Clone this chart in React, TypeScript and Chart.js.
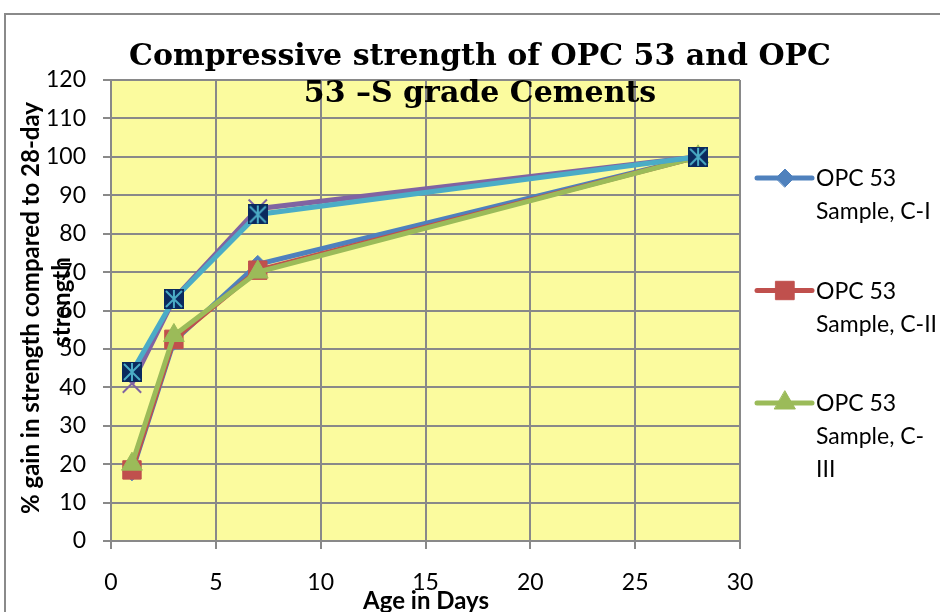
import React, { useEffect, useRef } from "react";
import { Chart, registerables } from "chart.js";
import { drawPoint } from "chart.js/helpers";

Chart.register(...registerables);

// ---- data ----
const days = [1, 3, 7, 28];
const opc53CI = [18, 52, 72, 100];
const opc53CII = [18.5, 52.5, 70.5, 100];
const opc53CIII = [20, 53.5, 70, 100];
const opc53S1 = [41, 63, 86.5, 100];
const opc53S2 = [44, 63, 85, 100];
const seriesNames = [
  "OPC 53 Sample, C-I",
  "OPC 53 Sample, C-II",
  "OPC 53 Sample, C-III",
  "OPC 53-S Sample, C-I",
  "OPC 53-S Sample, C-II",
];
const legendLines = [
  ["OPC 53", "Sample, C-I"],
  ["OPC 53", "Sample, C-II"],
  ["OPC 53", "Sample, C-", "III"],
];
const titleLines = ["Compressive strength of OPC 53 and OPC", "53 \u2013S grade Cements"];
const yTitleLines = ["% gain in strength compared to 28-day", "strength"];
const xTitle = "Age in Days";
const xRange = [0, 30, 5];
const yRange = [0, 120, 10];

const BLUE = "#4F81BD";
const RED = "#C0504D";
const GREEN = "#9BBB59";
const PURPLE = "#8064A2";
const AQUA = "#4BACC6";
const NAVY = "#0B2A5E";
const GRID = "#898989";

function makeStarMarker(): HTMLCanvasElement {
  const c = document.createElement("canvas");
  c.width = 20;
  c.height = 20;
  const g = c.getContext("2d")!;
  g.fillStyle = NAVY;
  g.fillRect(0, 0, 20, 20);
  g.strokeStyle = AQUA;
  g.lineWidth = 2;
  g.beginPath();
  g.moveTo(2, 2);
  g.lineTo(18, 18);
  g.moveTo(18, 2);
  g.lineTo(2, 18);
  g.moveTo(10, 1);
  g.lineTo(10, 19);
  g.stroke();
  return c;
}

export default function App() {
  const ref = useRef<HTMLCanvasElement | null>(null);

  useEffect(() => {
    const canvas = ref.current!;
    const star = makeStarMarker();

    const values = [opc53CI, opc53CII, opc53CIII, opc53S1, opc53S2];
    const colors = [BLUE, RED, GREEN, PURPLE, AQUA];
    const styles: any[] = ["rectRot", "rect", "triangle", "crossRot", star];
    const radii = [9, 13, 12, 13, 10];

    const datasets = values.map((vals, i) => ({
      label: seriesNames[i],
      data: days.map((d, j) => ({ x: d, y: vals[j] })),
      borderColor: colors[i],
      backgroundColor: colors[i],
      borderWidth: 5,
      pointStyle: styles[i],
      pointRadius: radii[i],
      pointBorderWidth: i === 3 ? 2 : 1,
      pointBackgroundColor: colors[i],
      pointBorderColor: colors[i],
      showLine: true,
      tension: 0,
      order: values.length - i,
    }));

    const decor = {
      id: "decor",
      beforeDraw(chart: any) {
        const { ctx, chartArea: a } = chart;
        ctx.save();
        ctx.fillStyle = "#ffffff";
        ctx.fillRect(0, 0, chart.width, chart.height);
        ctx.strokeStyle = "#8a8a8a";
        ctx.lineWidth = 2;
        ctx.beginPath();
        ctx.moveTo(5, chart.height);
        ctx.lineTo(5, 14);
        ctx.lineTo(chart.width, 14);
        ctx.stroke();
        ctx.fillStyle = "#FBFB9E";
        ctx.fillRect(a.left, a.top, a.right - a.left, a.bottom - a.top);
        ctx.restore();
      },
      afterDraw(chart: any) {
        const { ctx } = chart;
        ctx.save();
        // title
        ctx.fillStyle = "#000";
        ctx.textAlign = "center";
        ctx.textBaseline = "alphabetic";
        ctx.font = "bold 30px 'DejaVu Serif'";
        ctx.fillText(titleLines[0], 480, 65);
        ctx.fillText(titleLines[1], 480, 102);
        // axis titles
        ctx.font = "bold 24px Lato";
        ctx.textBaseline = "middle";
        ctx.fillText(xTitle, 426, 601);
        ctx.save();
        ctx.translate(31, 308);
        ctx.rotate(-Math.PI / 2);
        ctx.fillText(yTitleLines[0], 0, 0);
        ctx.restore();
        ctx.save();
        ctx.translate(62, 302);
        ctx.rotate(-Math.PI / 2);
        ctx.fillText(yTitleLines[1], 0, 0);
        ctx.restore();
        // legend
        ctx.textAlign = "left";
        ctx.font = "23px Lato";
        legendLines.forEach((lines, i) => {
          const ds = chart.data.datasets[i];
          const y0 = 178 + i * 112.5;
          ctx.strokeStyle = ds.borderColor;
          ctx.lineWidth = 5;
          ctx.lineCap = "round";
          ctx.beginPath();
          ctx.moveTo(757, y0);
          ctx.lineTo(812, y0);
          ctx.stroke();
          ctx.fillStyle = ds.pointBackgroundColor;
          ctx.strokeStyle = ds.pointBorderColor;
          ctx.lineWidth = 1;
          drawPoint(ctx, { pointStyle: ds.pointStyle, radius: ds.pointRadius, rotation: 0, borderWidth: 1 }, 785, y0);
          ctx.fillStyle = "#000";
          lines.forEach((t, j) => ctx.fillText(t, 816, y0 + 1 + j * 33));
        });
        ctx.restore();
      },
    };

    const chart = new Chart(canvas, {
      type: "scatter",
      data: { datasets: datasets as any },
      options: {
        responsive: false,
        animation: false,
        events: [],
        layout: { padding: { top: 80, right: 200, left: 0, bottom: 0 } },
        plugins: { legend: { display: false }, title: { display: false }, tooltip: { enabled: false } },
        scales: {
          x: {
            type: "linear",
            min: xRange[0],
            max: xRange[1],
            afterFit(scale: any) {
              scale.height = 71;
            },
            ticks: { stepSize: xRange[2], color: "#000", font: { family: "Lato", size: 23 }, padding: 20 },
            grid: { color: GRID, lineWidth: 2, tickLength: 8, drawTicks: true },
            border: { color: GRID, width: 2 },
          },
          y: {
            type: "linear",
            min: yRange[0],
            max: yRange[1],
            afterFit(scale: any) {
              scale.width = 111;
            },
            ticks: { stepSize: yRange[2], color: "#000", font: { family: "Lato", size: 23 }, padding: 17 },
            grid: { color: GRID, lineWidth: 2, tickLength: 8, drawTicks: true },
            border: { color: GRID, width: 2 },
          },
        },
      },
      plugins: [decor],
    });
    return () => chart.destroy();
  }, []);

  return (
    <canvas
      ref={ref}
      width={940}
      height={612}
      style={{ position: "absolute", left: 0, top: 0, width: 940, height: 612, display: "block" }}
    />
  );
}
